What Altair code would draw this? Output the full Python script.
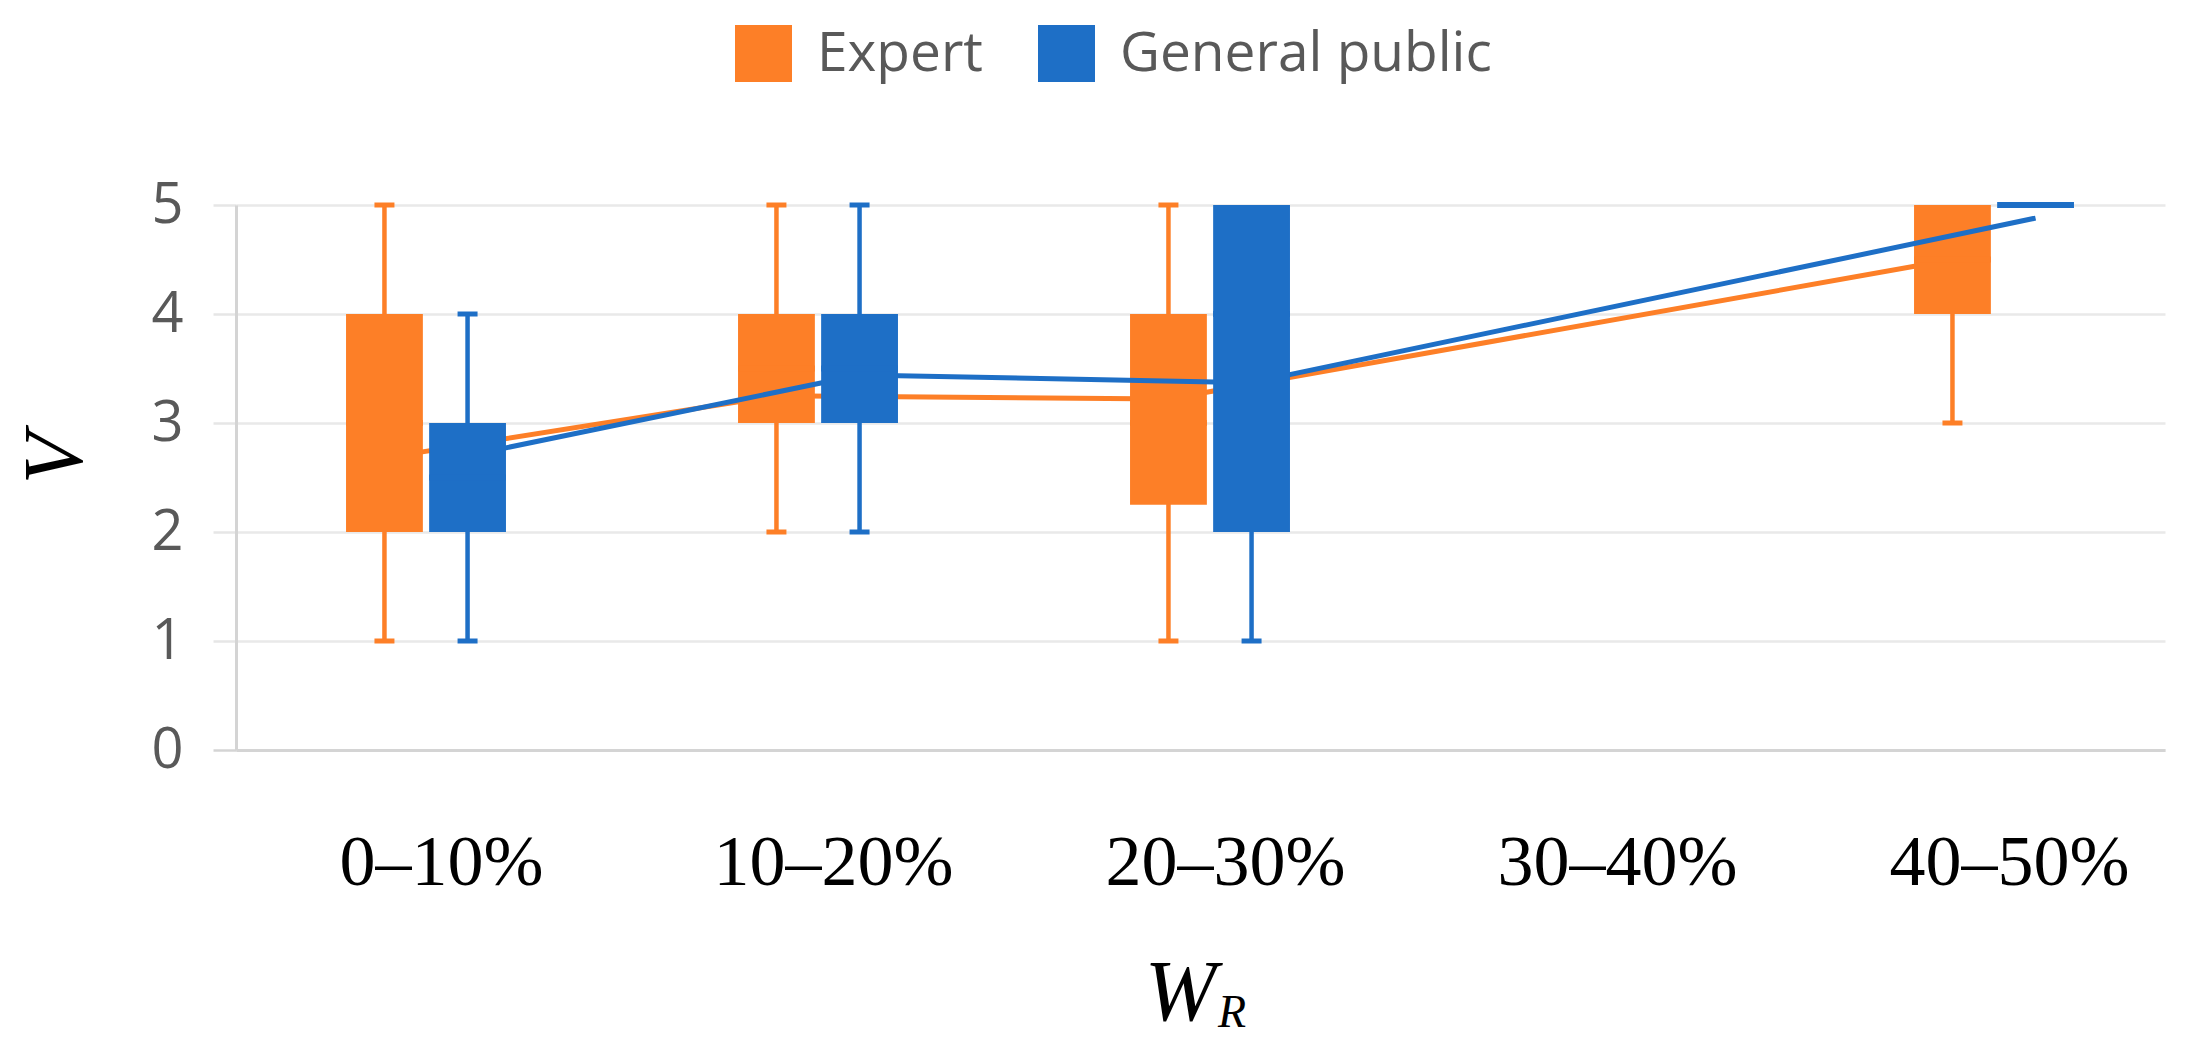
import json
import altair as alt
import pandas as pd

# ---------------- data ----------------
categories = ["0–10%", "10–20%", "20–30%", "30–40%", "40–50%"]
series_names = ["Expert", "General public"]

expert_min    = [1, 2, 1, None, 3]
expert_q1     = [2, 3, 2.25, None, 4]
expert_median = [3, 3.5, 3, None, 4.5]
expert_q3     = [4, 4, 4, None, 5]
expert_max    = [5, 5, 5, None, 5]
expert_mean   = [2.68, 3.25, 3.22, None, 4.50]

public_min    = [1, 2, 1, None, 5]
public_q1     = [2, 3, 2, None, 5]
public_median = [2.5, 3.5, 4, None, 5]
public_q3     = [3, 4, 5, None, 5]
public_max    = [4, 5, 5, None, 5]
public_mean   = [2.70, 3.44, 3.37, None, 4.88]

y_ticks = [0, 1, 2, 3, 4, 5]
y_title = "V"
x_title_main = "W"
x_title_sub = "R"

# ---------------- table ----------------
rows = []
for s, arrs in [
    ("Expert", (expert_min, expert_q1, expert_median, expert_q3, expert_max, expert_mean)),
    ("General public", (public_min, public_q1, public_median, public_q3, public_max, public_mean)),
]:
    mn, q1, md, q3, mx, me = arrs
    for i, c in enumerate(categories):
        if mn[i] is None:
            continue
        rows.append(dict(idx=i, cat=c, series=s, vmin=mn[i], q1=q1[i], median=md[i],
                         q3=q3[i], vmax=mx[i], mean=me[i]))
df = pd.DataFrame(rows)

ORANGE = "#FD7F27"
BLUE = "#1E6FC6"
colors = {"Expert": ORANGE, "General public": BLUE}

xscale = alt.Scale(domain=[-0.4847, 4.4362], nice=False, zero=False)
yscale = alt.Scale(domain=[0, 5], nice=False, zero=True)

label_expr = json.dumps(categories, ensure_ascii=False) + "[datum.value]"

xaxis = alt.Axis(
    values=list(range(len(categories))), labelExpr=label_expr, grid=False, ticks=False,
    domainColor="#d4d4d4", domainWidth=3,
    labelFont="Liberation Serif", labelFontSize=72, labelColor="#000000",
    labelPadding=77, labelOffset=15, labelFlush=False, labelOverlap=False, labelLimit=0,
    title=x_title_main, titleFont="Liberation Serif", titleFontStyle="italic",
    titleFontWeight="normal", titleFontSize=86, titleColor="#000000",
    titleX=944, titleY=269, titleAlign="center", titleBaseline="alphabetic",
)
yaxis = alt.Axis(
    values=y_ticks, grid=True, gridColor="#e9e9e9", gridWidth=2.5,
    domainColor="#d4d4d4", domainWidth=3,
    tickColor={"condition": {"test": "datum.value === 0", "value": "#d4d4d4"}, "value": "#e6e6e6"},
    tickSize=23, tickWidth=2.5,
    labelFont="Open Sans", labelFontSize=56, labelColor="#595959", labelPadding=30,
    title=y_title, titleFont="Liberation Serif", titleFontStyle="italic",
    titleFontWeight="normal", titleFontSize=84, titleColor="#000000",
    titleAngle=270, titleX=-155, titleY=253, titleAlign="center", titleBaseline="alphabetic",
)


def X(f):
    return alt.X(f"{f}:Q", scale=xscale, axis=xaxis)


def Y(f):
    return alt.Y(f"{f}:Q", scale=yscale, axis=yaxis)


base = alt.Chart(df).transform_calculate(
    off="datum.series === 'Expert' ? -1 : 1"
).transform_calculate(
    box_a="datum.idx + datum.off * 0.008",
    box_b="datum.idx + datum.off * 0.204",
    center="datum.idx + datum.off * 0.106",
).transform_calculate(
    cap_a="datum.center - 0.0255",
    cap_b="datum.center + 0.0255",
)

legend = alt.Legend(
    title=None, orient="none", legendX=499, legendY=-180, direction="horizontal",
    symbolType="square", symbolSize=3249, symbolStrokeWidth=0,
    labelFont="Open Sans", labelFontSize=55, labelColor="#595959",
    labelOffset=25, columnPadding=55, padding=0, labelLimit=0,
)

layers = []
for s in series_names:
    col = colors[s]
    b = base.transform_filter(alt.datum.series == s)
    layers.append(b.mark_line(strokeWidth=5, color=col).encode(x=X("center"), y=Y("mean")))
    layers.append(b.mark_rule(strokeWidth=4.5, color=col).encode(x=X("center"), y=Y("vmin"), y2="vmax"))
    layers.append(b.transform_filter("datum.vmin < datum.q1").mark_rule(strokeWidth=5, color=col)
                  .encode(x=X("cap_a"), x2="cap_b", y=Y("vmin")))
    layers.append(b.transform_filter("datum.vmax > datum.q3").mark_rule(strokeWidth=5, color=col)
                  .encode(x=X("cap_a"), x2="cap_b", y=Y("vmax")))
    layers.append(b.mark_rect(strokeWidth=0).encode(
        x=X("box_a"), x2="box_b", y=Y("q1"), y2="q3",
        color=alt.Color("series:N", scale=alt.Scale(domain=series_names, range=[ORANGE, BLUE]),
                        legend=legend)))
    layers.append(b.mark_rule(strokeWidth=6, color=col).encode(x=X("box_a"), x2="box_b", y=Y("median")))

sub = alt.Chart(pd.DataFrame({"t": [x_title_sub]})).mark_text(
    font="Liberation Serif", fontStyle="italic", fontSize=46, align="left",
    baseline="alphabetic", color="#000000"
).encode(text="t:N", x=alt.value(982), y=alt.value(822))
layers.append(sub)

chart = alt.layer(*layers).properties(
    width=1929, height=545,
    autosize=alt.AutoSizeParams(type="none"),
    padding={"left": 228, "top": 197, "right": 26, "bottom": 290},
    background="#ffffff",
).configure_view(stroke=None)

chart.save("out.html", embed_options={"renderer": "svg", "actions": False})
